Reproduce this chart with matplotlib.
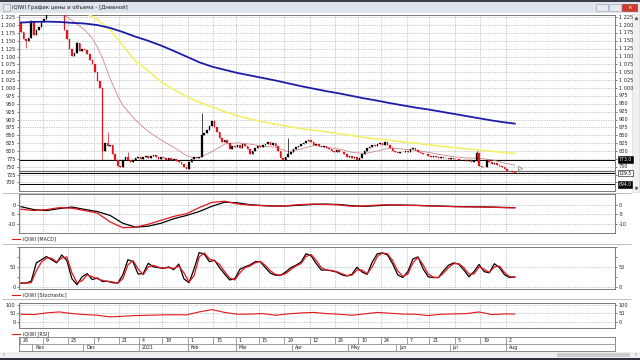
import numpy as np
import matplotlib.pyplot as plt
from matplotlib.patches import Rectangle

plt.rcParams['font.family'] = ['DejaVu Sans']

# --- trading calendar (MOEX days off removed) ---
HOLIDAYS = ['2020-11-04', '2020-12-31', '2021-01-01', '2021-01-07', '2021-02-23',
            '2021-03-08', '2021-05-03', '2021-05-10', '2021-06-14']
FIRST_DAY, LAST_DAY = '2020-10-26', '2021-08-06'

# daily closes of iQIWI
CLOSE = [1178, 1155, 1150, 1160, 1212, 1170, 1185, 1195, 1210, 1220,
         1240, 1262, 1280, 1300, 1290, 1310, 1265, 1185, 1155, 1125,
         1102, 1112, 1142, 1118, 1125, 1120, 1108, 1090, 1076, 1052,
         1022, 1000, 800, 825, 815, 820, 790, 770, 752, 748,
         772, 780, 770, 765, 772, 778, 782, 776, 781, 785,
         779, 783, 788, 780, 775, 782, 778, 772, 778, 770,
         774, 768, 765, 758, 748, 742, 765, 775, 780, 778,
         782, 850, 858, 868, 880, 895, 875, 860, 842, 830,
         835, 825, 805, 815, 812, 818, 810, 822, 815, 805,
         792, 800, 808, 815, 812, 818, 822, 828, 820, 825,
         815, 800, 778, 772, 780, 792, 798, 806, 812, 816,
         822, 826, 832, 836, 828, 820, 822, 815, 812, 816,
         810, 805, 800, 798, 802, 796, 798, 790, 780, 785,
         778, 782, 772, 778, 792, 800, 808, 812, 818, 815,
         822, 826, 820, 828, 818, 808, 800, 798, 795, 798,
         796, 800, 797, 806, 810, 802, 798, 795, 790, 792,
         785, 782, 784, 780, 778, 780, 777, 779, 776, 778,
         775, 774, 772, 770, 772, 768, 770, 766, 768, 795,
         752, 750, 748, 770, 765, 760, 762, 755, 752, 748,
         742, 738, 735, 732, 730]
FIRST_OPEN = 1210
WICK_HIGH = {4: 1216, 22: 1145, 34: 860, 42: 797, 71: 922, 76: 900, 105: 842, 179: 800}
WICK_LOW = {2: 1128, 32: 770}

# moving averages (sampled every 5 sessions)
MA_DAYS = list(range(0, 195, 5)) + [194]
MA_BLUE = [1208, 1210, 1211, 1210, 1207, 1205, 1200, 1191, 1178, 1163,
           1150, 1135, 1118, 1100, 1082, 1068, 1058, 1048, 1040, 1032,
           1024, 1015, 1006, 998, 990, 983, 975, 967, 960, 952,
           945, 938, 932, 925, 918, 911, 904, 897, 891, 887]
YELLOW_DAYS = list(range(25, 195, 5)) + [194]
MA_YELLOW = [1240, 1218, 1185, 1135, 1085, 1055, 1020, 995, 973, 955,
             940, 925, 912, 902, 893, 885, 878, 871, 866, 861,
             855, 849, 843, 838, 834, 829, 825, 820, 815, 811,
             807, 803, 799, 795, 792]
PINK_DAYS = [14, 17, 20, 25, 28, 30, 32, 35, 38, 40, 45, 50, 55, 60, 65, 68, 70,
             75, 80, 85, 90, 95, 100, 105, 110, 115, 120, 125, 130, 135, 140,
             145, 150, 155, 160, 165, 170, 175, 180, 185, 190, 194]
MA_PINK = [1245, 1232, 1215, 1185, 1158, 1130, 1095, 1030, 975, 945,
           898, 862, 835, 812, 785, 778, 779,
           798, 822, 826, 822, 815, 812, 798, 806, 818, 812, 806, 796, 792, 800,
           810, 806, 802, 796, 788, 782, 778, 777, 772, 762, 755]

# horizontal levels and their right-hand labels
LEVELS = [773, 738, 730, 694]
LEVEL_TAGS = [(773, '773.0', 'dark'), (729.5, '729.5', 'light'), (694, '694.0', 'dark')]
HIDDEN_RIGHT = [775, 725, 700]   # price labels covered by the level tags

# MACD (every 5 sessions)
MACD_BLACK = [-1.0, -2.5, -3.0, -2.0, -1.2, -2.4, -3.5, -5.5, -9.5, -11.5,
              -11.0, -9.5, -7.2, -5.5, -3.5, -0.8, 1.3, 1.0, 0.0, -0.4,
              -0.7, -0.6, -0.2, 0.2, 0.3, 0.1, -0.5, -0.8, -0.5, -0.1,
              -0.2, -0.3, -0.5, -0.7, -0.9, -1.0, -1.1, -1.2, -1.4, -1.5]
MACD_RED = [-2.3, -3.0, -2.5, -1.5, -1.8, -3.0, -4.3, -8.8, -11.8, -11.5,
            -10.0, -8.0, -6.0, -4.6, -1.5, 1.2, 1.8, 0.4, -0.2, -0.5,
            -0.8, -0.4, 0.1, 0.3, 0.2, -0.1, -0.8, -0.6, -0.2, 0.0,
            -0.3, -0.4, -0.6, -0.8, -1.0, -1.1, -1.1, -1.3, -1.5, -1.6]

# Stochastic (every 2 sessions)
ST_DAYS = list(range(0, 195, 2))
STOCH_K = [9, 9, 14, 60, 68, 76, 68, 60, 80, 66,
           20, 5, 25, 33, 18, 22, 13, 14, 10, 9,
           30, 68, 63, 32, 33, 59, 50, 48, 46, 50,
           43, 57, 20, 10, 45, 86, 82, 63, 67, 48,
           32, 17, 20, 44, 50, 55, 63, 63, 48, 34,
           29, 29, 37, 48, 54, 62, 83, 78, 58, 42,
           42, 40, 37, 30, 27, 31, 49, 37, 31, 62,
           83, 85, 80, 58, 30, 23, 38, 70, 75, 45,
           25, 23, 23, 40, 54, 60, 57, 42, 25, 38,
           56, 38, 35, 58, 48, 30, 23, 25]
STOCH_D = [10, 9, 10, 40, 62, 72, 72, 62, 72, 75,
           35, 10, 15, 30, 25, 20, 16, 13, 12, 9,
           20, 55, 66, 45, 30, 50, 54, 49, 47, 48,
           46, 52, 35, 12, 28, 75, 85, 70, 65, 56,
           38, 22, 17, 35, 48, 52, 60, 64, 54, 40,
           31, 29, 33, 43, 52, 58, 76, 81, 66, 48,
           42, 41, 38, 33, 28, 29, 42, 42, 33, 50,
           76, 85, 83, 66, 40, 26, 32, 60, 74, 55,
           32, 24, 23, 34, 48, 58, 58, 48, 32, 32,
           50, 44, 36, 50, 52, 36, 25, 24]

# RSI (every 5 sessions)
RSI = [44, 42, 52, 58, 48, 42, 38, 28, 32, 36,
       38, 40, 41, 40, 58, 72, 55, 44, 45, 48,
       38, 46, 52, 55, 48, 44, 38, 46, 55, 50,
       45, 44, 36, 44, 46, 48, 58, 42, 46, 45]

TICK_DATES = ['2020-10-26', '2020-11-09', '2020-11-23', '2020-12-07', '2020-12-21',
              '2021-01-04', '2021-01-18', '2021-02-01', '2021-02-15', '2021-03-01',
              '2021-03-15', '2021-03-29', '2021-04-12', '2021-04-26', '2021-05-10',
              '2021-05-24', '2021-06-07', '2021-06-21', '2021-07-05', '2021-07-19',
              '2021-08-02']
MONTH_DATES = ['2020-11-01', '2020-12-01', '2021-01-01', '2021-02-01', '2021-03-01',
               '2021-04-01', '2021-05-01', '2021-06-01', '2021-07-01', '2021-08-01']
MONTH_LABELS = ['Nov', 'Dec', '2021', 'Feb', 'Mar', 'Apr', 'May', 'Jun', 'Jul', 'Aug']

days = np.arange(np.datetime64(FIRST_DAY), np.datetime64(LAST_DAY))
days = days[np.is_busday(days, holidays=HOLIDAYS)]
tick_pos = [np.searchsorted(days, np.datetime64(d)) for d in TICK_DATES]
tick_lab = [str(int(d[-2:])) for d in TICK_DATES]
month_pos = [np.searchsorted(days, np.datetime64(d)) for d in MONTH_DATES]

XLIM = (-0.8, 233.4)
W, H = 640, 360
RED = '#e3161e'
GRID = dict(color='#9c9c9c', lw=0.5, ls=(0, (1, 1.5)))


def rect(x0, y0, x1, y1):
    return [x0 / W, 1 - y1 / H, (x1 - x0) / W, (y1 - y0) / H]


fig = plt.figure(figsize=(6.4, 3.6), dpi=100)
fig.patch.set_facecolor('white')

# window chrome drawn in pixel coordinates
bg = fig.add_axes([0, 0, 1, 1], zorder=-5)
bg.set_xlim(0, W)
bg.set_ylim(H, 0)
bg.axis('off')
bg.add_patch(Rectangle((0, 0), W, 2, fc='#3a3f4a', ec='none'))
bg.add_patch(Rectangle((0, 2), W, 11, fc='#dde4ec', ec='none'))
bg.add_patch(Rectangle((3, 4), 7, 7, fc='#e8e8e8', ec='#9098a8', lw=0.4))
bg.text(12, 7.5, 'iQIWI График цены и объема - [Дневной]', fontsize=3.9,
        va='center', color='#202020')
for bx in (596, 609):
    bg.add_patch(Rectangle((bx, 4), 12, 7, fc='#e6e9ee', ec='#9aa2ae', lw=0.4))
bg.add_patch(Rectangle((622, 4), 15, 7, fc='#cf3b2e', ec='#8a2a20', lw=0.4))
bg.text(629.5, 7.5, '×', fontsize=4, color='white', ha='center', va='center')
bg.add_patch(Rectangle((632, 14), 7, 178, fc='#f0f0f0', ec='#d4d4d4', lw=0.4))
bg.plot([635.5], [18], marker='^', ms=1.5, color='#606060')
bg.plot([635.5], [188], marker='v', ms=1.5, color='#606060')
bg.add_patch(Rectangle((0, 352), W, 6, fc='#f0f0f0', ec='none'))
bg.add_patch(Rectangle((557, 352.6), 73, 4.6, fc='#cdcdcd', ec='none'))
bg.text(4, 355, '‹', fontsize=4, ha='center', va='center', color='#404040')
bg.text(636, 355, '›', fontsize=4, ha='center', va='center', color='#404040')
bg.add_patch(Rectangle((0, 358), W, 2, fc='#2e3240', ec='none'))
for sy in (192.5, 243.5, 299):
    bg.hlines(sy, 2, 631, color='#b4b4b4', lw=0.6)

# legend captions under the indicator panels
for cy, name in ((239, 'iQIWI [MACD]'), (295, 'iQIWI [Stochastic]'), (334, 'iQIWI [RSI]')):
    bg.plot([12, 20], [cy, cy], color=RED, lw=0.8)
    bg.text(23, cy, name, fontsize=3.5, va='center', color='#202020')


def style_panel(ax, yticks, ylabels, ylim, labelright=True):
    ax.set_xlim(*XLIM)
    ax.set_ylim(*ylim)
    ax.set_xticks([])
    ax.set_yticks(yticks)
    ax.set_yticklabels(ylabels)
    ax.tick_params(axis='y', labelsize=3.6, length=1.5, width=0.4, pad=1,
                   left=True, right=True, labelleft=True, labelright=labelright,
                   colors='#202020')
    for s in ax.spines.values():
        s.set_color('#7a7a7a')
        s.set_linewidth(0.7)
    for p in tick_pos:
        ax.axvline(p - 0.5, zorder=0, **GRID)


# --- price panel ---
ax = fig.add_axes(rect(19, 15, 615, 191))
price_ticks = list(range(700, 1226, 25))
price_labels = [f'{v:,}'.replace(',', ' ') for v in price_ticks]
style_panel(ax, price_ticks, price_labels, (673, 1232), labelright=False)
for v, lab in zip(price_ticks, price_labels):
    ax.axhline(v, zorder=0, **GRID)
    if v not in HIDDEN_RIGHT:
        ax.text(1.006, v, lab, transform=ax.get_yaxis_transform(), fontsize=3.6,
                va='center', ha='left', color='#202020', clip_on=False)

close = np.array(CLOSE, dtype=float)
opens = np.r_[FIRST_OPEN, close[:-1]]
x = np.arange(len(close))
up = close >= opens
col = np.where(up, 'black', RED)
hi = np.maximum(opens, close)
lo = np.minimum(opens, close)
for i, v in WICK_HIGH.items():
    hi[i] = v
for i, v in WICK_LOW.items():
    lo[i] = v
ax.vlines(x, lo, hi, colors=col, lw=0.5, zorder=3)
body = np.maximum(np.abs(close - opens), 1.2)
ax.bar(x, body, bottom=np.minimum(opens, close), width=0.62, color=col,
       edgecolor=col, lw=0.2, zorder=4)

ax.plot(PINK_DAYS, MA_PINK, color='#c98a8a', lw=0.6, zorder=2)
ax.plot(YELLOW_DAYS, MA_YELLOW, color='#f4ef6a', lw=1.2, zorder=5)
ax.plot(MA_DAYS, MA_BLUE, color='#1c1ca8', lw=1.3, zorder=5)
ax.plot([len(close) + 1], [747], marker='>', ms=3, mfc='white', mec='#808080',
        mew=0.5, zorder=6)

for lv in LEVELS:
    ax.axhline(lv, color='#6a6a6a' if lv == 738 else 'black',
               lw=0.9 if lv == 738 else 0.7, zorder=1)
for yv, txt, kind in LEVEL_TAGS:
    dark = kind == 'dark'
    ax.text(1.006, yv, txt, transform=ax.get_yaxis_transform(), fontsize=3.3,
            va='center', ha='left', color='white' if dark else 'black',
            clip_on=False, zorder=10,
            bbox=dict(boxstyle='square,pad=0.15', fc='black' if dark else 'white',
                      ec='black', lw=0.4))

# --- MACD panel ---
ax = fig.add_axes(rect(19, 194, 615, 233))
style_panel(ax, [0, -5, -10], ['0', '-5', '-10'], (-14.5, 5.5))
for v in (0, -5, -10):
    ax.axhline(v, zorder=0, **GRID)
ax.plot(MA_DAYS, MACD_BLACK, color='black', lw=0.9)
ax.plot(MA_DAYS, MACD_RED, color=RED, lw=0.9)

# --- Stochastic panel ---
ax = fig.add_axes(rect(19, 247, 615, 289))
style_panel(ax, [0, 25, 50, 75, 100], ['0', '', '50', '', ''], (-5.75, 99.25))
for v in (0, 50):
    ax.axhline(v, zorder=0, **GRID)
ax.plot(ST_DAYS, STOCH_K, color='black', lw=0.9)
ax.plot(ST_DAYS, STOCH_D, color=RED, lw=0.9)

# --- RSI panel ---
ax = fig.add_axes(rect(19, 303, 615, 328))
style_panel(ax, [0, 50, 100], ['0', '50', '100'], (-38.7, 111.6))
for v in (0, 50, 100):
    ax.axhline(v, zorder=0, **GRID)
ax.plot(MA_DAYS, RSI, color=RED, lw=0.8)

# --- date scale: day row and month row ---
ax = fig.add_axes(rect(19, 337, 615, 351))
ax.set_xlim(*XLIM)
ax.set_ylim(0, 2)
ax.set_xticks([])
ax.set_yticks([])
for s in ax.spines.values():
    s.set_color('#7a7a7a')
    s.set_linewidth(0.6)
ax.axhline(1, color='#7a7a7a', lw=0.5)
for p, lab in zip(tick_pos, tick_lab):
    ax.vlines(p - 0.5, 1, 2, color='#7a7a7a', lw=0.5)
    ax.text(p + 0.6, 1.5, lab, fontsize=3.4, va='center', ha='left', color='#202020')
for p, lab in zip(month_pos, MONTH_LABELS):
    ax.vlines(p - 0.5, 0, 1, color='#7a7a7a', lw=0.5)
    ax.text(p + 0.6, 0.5, lab, fontsize=3.4, va='center', ha='left', color='#202020')

fig.savefig('out.png', dpi=100)
